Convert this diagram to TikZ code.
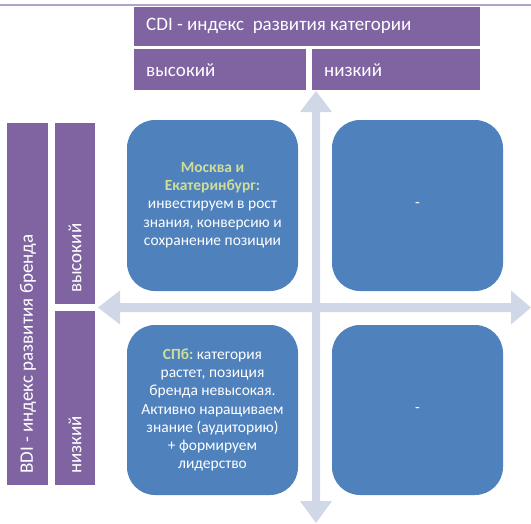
\documentclass[tikz,border=0pt]{standalone}
\usepackage{fontspec}
\setmainfont{Carlito}
\frenchspacing
\definecolor{purp}{HTML}{8064A2}
\definecolor{boxblue}{HTML}{4F81BD}
\definecolor{axis}{HTML}{D0D8E8}
\definecolor{hl}{HTML}{CFDD96}
\definecolor{topline}{HTML}{B3A2C7}
\tikzset{
  hdr/.style={fill=purp, draw=none, text=white, inner sep=0pt},
  quad/.style={fill=boxblue, draw=none, rounded corners=28pt, inner sep=0pt},
  qtext/.style={text=white, align=center, font=\fontsize{15.5}{18.3}\selectfont},
  htext/.style={text=white, anchor=west, inner sep=0pt, font=\fontsize{19}{22}\selectfont},
}
\begin{document}
\begin{tikzpicture}[x=1pt,y=-1pt]
\useasboundingbox (0,0) rectangle (531,523);
% top line
\draw[topline, line width=2pt] (0,5) -- (531,5);
% axes
\fill[axis] (316,91) -- (332,112) -- (320,112) -- (320,501) -- (332,501) -- (316,523)
  -- (300,501) -- (312,501) -- (312,112) -- (300,112) -- cycle;
\fill[axis] (98,307.5) -- (120,290.5) -- (120,303) -- (511,303) -- (511,290.5) -- (531,307.5)
  -- (511,324.5) -- (511,312) -- (120,312) -- (120,324.5) -- cycle;
% headers top
\fill[purp] (134,7) rectangle (480,46);
\node[htext] (cdi) at (146,26) {CDI - индекс\ \ развития категории};
\fill[purp] (134,49) rectangle (306,90);
\node[htext] (chigh) at (146,70) {высокий};
\fill[purp] (312,49) rectangle (480,90);
\node[htext] (clow) at (324,70) {низкий};
% headers left
\fill[purp] (7,123) rectangle (48,485);
\node[htext, rotate=90] (bdi) at (28,474) {BDI - индекс развития бренда};
\fill[purp] (55,123) rectangle (95,304);
\node[htext, rotate=90] (bhigh) at (75,293) {высокий};
\fill[purp] (55,311) rectangle (95,485);
\node[htext, rotate=90] (blow) at (75,474) {низкий};
% quadrants
\fill[quad] (127,120) rectangle (298,291);
\fill[quad] (332,120) rectangle (503,291);
\fill[quad] (127,325) rectangle (298,495);
\fill[quad] (332,325) rectangle (503,495);
\node[qtext] (q1) at (212.5,205) {\textcolor{hl}{\textbf{Москва и}}\\ \textcolor{hl}{\textbf{Екатеринбург:}}\\ инвестируем в рост\\ знания, конверсию и\\ сохранение позиции};
\node[qtext] (q2) at (417.5,205) {-};
\node[qtext] (q3) at (212.5,410) {\textcolor{hl}{\textbf{СПб:}} категория\\ растет, позиция\\ бренда невысокая.\\ Активно наращиваем\\ знание (аудиторию)\\ + формируем\\ лидерство};
\node[qtext] (q4) at (417.5,410) {-};
\end{tikzpicture}
\end{document}
